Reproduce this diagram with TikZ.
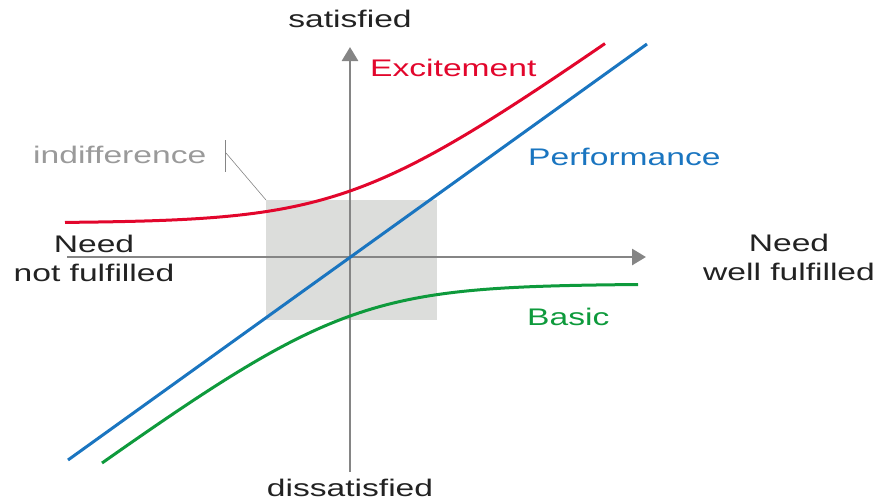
\documentclass[tikz,border=0pt]{standalone}
\usepackage{fontspec}
\setmainfont{Liberation Sans}
\usetikzlibrary{arrows.meta}
\definecolor{axisgray}{HTML}{858585}
\definecolor{boxgray}{HTML}{DCDDDB}
\definecolor{exred}{HTML}{E2062C}
\definecolor{perfblue}{HTML}{1A75C0}
\definecolor{basgreen}{HTML}{0E9A3C}
\definecolor{indgray}{HTML}{9A9A9A}
\definecolor{txt}{HTML}{222222}
\newcommand{\wide}[1]{\scalebox{1.4}[1]{#1}}
\tikzset{
  lbl/.style={inner sep=0pt, font=\fontsize{24}{29}\selectfont, text=txt},
  axisline/.style={draw=axisgray, line width=2.8pt, -{Triangle[length=14pt,width=16pt]}},
  curve/.style={line width=3pt},
}
\begin{document}
\begin{tikzpicture}[x=1pt,y=-1pt]
\useasboundingbox (0,0) rectangle (880,501);
% indifference zone
\fill[boxgray] (266,200) rectangle (437,320);
\coordinate (boxcorner) at (266,200);
% axes
\coordinate (ybot) at (350,472);
\coordinate (ytop) at (350,47);
\coordinate (xleft) at (67,257);
\coordinate (xright) at (646,257);
\draw[axisline] (ybot) -- (ytop);
\draw[axisline] (xleft) -- (xright);
% performance
\coordinate (pstart) at (68,460);
\coordinate (pend) at (647,44);
\draw[curve, perfblue] (pstart) -- (pend);
% excitement
\draw[curve, exred] plot[domain=-285:255, samples=80, smooth]
  ({350+\x},{257-(34+46.2*ln(1+exp(0.70*\x/46.2)))});
% basic
\draw[curve, basgreen] plot[domain=-248:288, samples=80, smooth]
  ({350+\x},{257+(27+46.2*ln(1+exp(-0.718*\x/46.2)))});
% indifference leader
\coordinate (tickt) at (225,140);
\coordinate (tickb) at (225,172);
\coordinate (tickm) at (226,153);
\draw[axisgray, line width=0.8pt] (tickt) -- (tickb);
\draw[axisgray, line width=0.6pt] (tickm) -- (boxcorner);
% labels
\node[lbl, anchor=base] (sat) at (350,27) {\wide{satisfied}};
\node[lbl, anchor=base] (dis) at (350,496) {\wide{dissatisfied}};
\node[lbl, anchor=base west, text=exred] (exc) at (370,76) {\wide{Excitement}};
\node[lbl, anchor=base west, text=indgray] (ind) at (33,163) {\wide{indifference}};
\node[lbl, anchor=base west, text=perfblue] (perf) at (528,165) {\wide{Performance}};
\node[lbl, anchor=base west, text=basgreen] (bas) at (527,325) {\wide{Basic}};
\node[lbl, align=center, anchor=base] (nnf) at (94,281) {\wide{Need}\\\wide{not fulfilled}};
\node[lbl, align=center, anchor=base] (nwf) at (789,280) {\wide{Need}\\\wide{well fulfilled}};
\end{tikzpicture}
\end{document}
